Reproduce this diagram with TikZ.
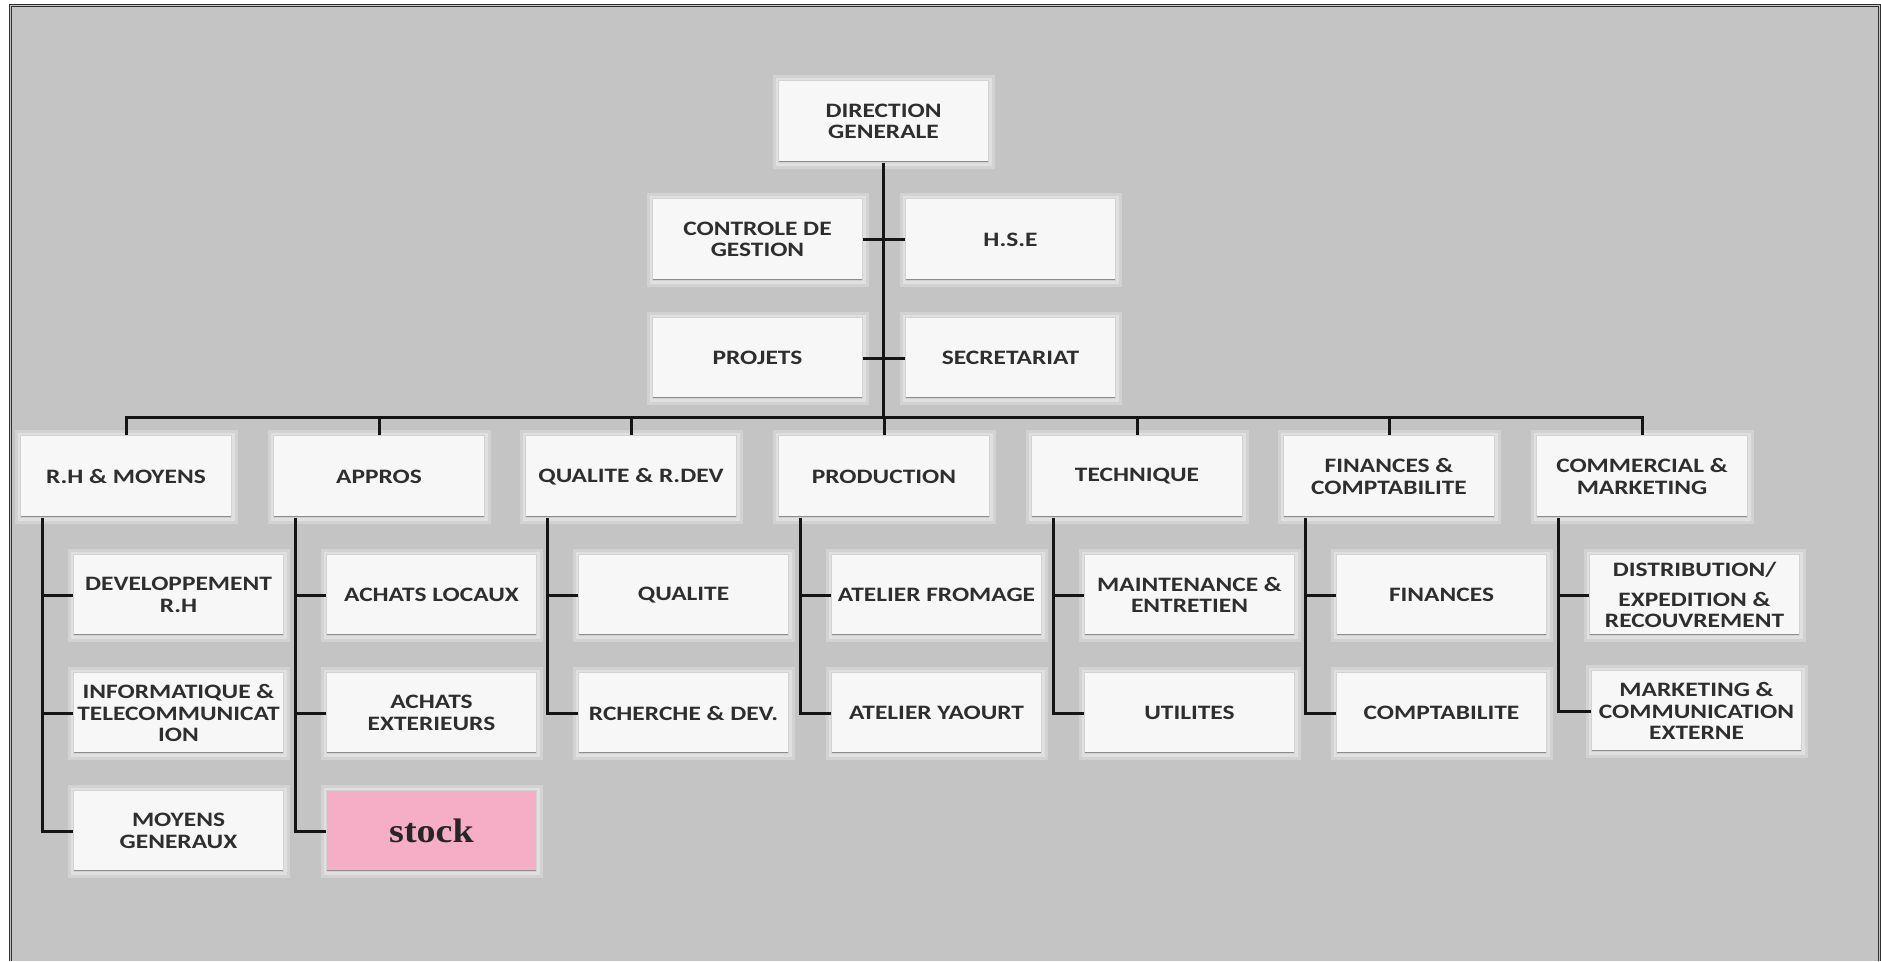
\documentclass[tikz,border=0pt]{standalone}
\usepackage{fontspec}
\newfontfamily\boxfont{Carlito}[FakeStretch=1.24]
\newfontfamily\stockfont{Liberation Serif}[FakeStretch=1.12]
\definecolor{bgc}{HTML}{C4C4C4}
\definecolor{framec}{HTML}{303030}
\definecolor{boxfill}{HTML}{F7F7F7}
\definecolor{boxedge}{HTML}{D2D2D2}
\definecolor{glowA}{HTML}{D2D2D2}
\definecolor{glowB}{HTML}{E0E0E0}
\definecolor{shadeA}{HTML}{8C8C8C}
\definecolor{shadeB}{HTML}{A8A8A8}
\definecolor{txt}{HTML}{2E2E2E}
\definecolor{pinkc}{HTML}{F6AEC6}
\definecolor{connc}{HTML}{151515}
\tikzset{
  box/.style={rectangle, draw=boxedge, line width=1pt, fill=boxfill, text=txt,
    font=\boxfont\bfseries\fontsize{20.5}{21.5}\selectfont, align=center,
    inner sep=0pt, minimum width=210pt, minimum height=82pt, anchor=north west,
    preaction={draw=glowA, line width=12pt, rounded corners=4pt},
    preaction={draw=glowB, line width=6pt, rounded corners=2pt},
    path picture={
      \draw[shadeA, line width=4pt] (path picture bounding box.south west) -- (path picture bounding box.south east);
      \draw[shadeB, line width=2pt] (path picture bounding box.south east) -- (path picture bounding box.north east);
    }},
  dept/.style={box, minimum width=211pt},
  sub/.style={box, minimum height=81pt},
  stockbox/.style={sub, fill=pinkc, text=black!85,
    font=\stockfont\bfseries\fontsize{34}{36}\selectfont},
  conn/.style={draw=connc, line width=3pt},
}
\begin{document}
\begin{tikzpicture}[x=1pt, y=-1pt]
\useasboundingbox (0,0) rectangle (1881,961);
\fill[white] (0,0) rectangle (1881,961);
\fill[bgc] (10,5) rectangle (1881,961);
\draw[framec, line width=1.2pt] (9.8,961) -- (9.8,4.6) -- (1880.2,4.6) -- (1880.2,961);
\draw[framec, line width=0.9pt] (11.9,961) -- (11.9,6.8) -- (1878,6.8) -- (1878,961);

% top
\node[box] (dg) at (778,80) {DIRECTION\\GENERALE};
\node[box] (cg) at (652,198) {CONTROLE DE\\GESTION};
\node[box] (hse) at (905,198) {H.S.E};
\node[box, minimum height=81pt] (proj) at (652,317) {PROJETS};
\node[box, minimum height=81pt] (sec) at (905,317) {SECRETARIAT};

% departments
\node[dept] (rh) at (20,435) {R.H \& MOYENS};
\node[dept] (app) at (273,435) {APPROS};
\node[dept] (qual) at (525,435) {QUALITE \& R.DEV};
\node[dept] (prod) at (778,435) {PRODUCTION};
\node[dept] (tech) at (1031,435) {TECHNIQUE};
\node[dept] (fin) at (1283,435) {FINANCES \&\\COMPTABILITE};
\node[dept] (com) at (1536,435) {COMMERCIAL \&\\MARKETING};

% sub units
\node[sub] (rh1) at (73,554) {DEVELOPPEMENT\\R.H};
\node[sub] (rh2) at (73,672) {INFORMATIQUE \&\\TELECOMMUNICAT\\ION};
\node[sub] (rh3) at (73,790) {MOYENS\\GENERAUX};
\node[sub] (ap1) at (326,554) {ACHATS LOCAUX};
\node[sub] (ap2) at (326,672) {ACHATS\\EXTERIEURS};
\node[stockbox] (ap3) at (326,790) {stock};
\node[sub] (q1) at (578,554) {QUALITE};
\node[sub] (q2) at (578,672) {RCHERCHE \& DEV.};
\node[sub] (p1) at (831,554) {ATELIER FROMAGE};
\node[sub] (p2) at (831,672) {ATELIER YAOURT};
\node[sub] (t1) at (1084,554) {MAINTENANCE \&\\ENTRETIEN};
\node[sub] (t2) at (1084,672) {UTILITES};
\node[sub] (f1) at (1336,554) {FINANCES};
\node[sub] (f2) at (1336,672) {COMPTABILITE};
\node[sub] (c1) at (1589,554) {DISTRIBUTION/\\[8pt]EXPEDITION \&\\RECOUVREMENT};
\node[sub] (c2) at (1591,670) {MARKETING \&\\COMMUNICATION\\EXTERNE};

% connectors
\coordinate (busy) at (884,417);
\draw[conn] (dg.south) -- (dg.south |- busy);
\draw[conn] (cg.east) -- (hse.west);
\draw[conn] (proj.east) -- (sec.west);
\draw[conn] (rh.north) -- (rh.north |- busy) -- (com.north |- busy) -- (com.north);
\foreach \n in {app,qual,prod,tech,fin} \draw[conn] (\n.north) -- (\n.north |- busy);

\draw[conn] ([xshift=22pt]rh.south west) coordinate (vrh) |- (rh3.west);
\draw[conn] (vrh |- rh1.west) -- (rh1.west);
\draw[conn] (vrh |- rh2.west) -- (rh2.west);

\draw[conn] ([xshift=22pt]app.south west) coordinate (vap) |- (ap3.west);
\draw[conn] (vap |- ap1.west) -- (ap1.west);
\draw[conn] (vap |- ap2.west) -- (ap2.west);

\draw[conn] ([xshift=22pt]qual.south west) coordinate (vq) |- (q2.west);
\draw[conn] (vq |- q1.west) -- (q1.west);

\draw[conn] ([xshift=22pt]prod.south west) coordinate (vp) |- (p2.west);
\draw[conn] (vp |- p1.west) -- (p1.west);

\draw[conn] ([xshift=22pt]tech.south west) coordinate (vt) |- (t2.west);
\draw[conn] (vt |- t1.west) -- (t1.west);

\draw[conn] ([xshift=22pt]fin.south west) coordinate (vf) |- (f2.west);
\draw[conn] (vf |- f1.west) -- (f1.west);

\draw[conn] ([xshift=22pt]com.south west) coordinate (vc) |- (c2.west);
\draw[conn] (vc |- c1.west) -- (c1.west);
\end{tikzpicture}
\end{document}
